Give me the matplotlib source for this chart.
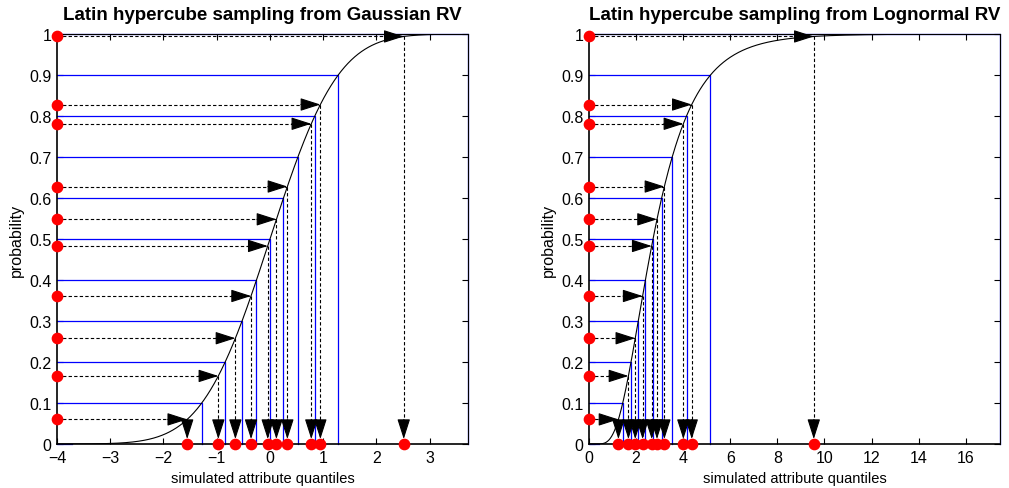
import numpy as np
import matplotlib
matplotlib.use("Agg")
import matplotlib.pyplot as plt
from statistics import NormalDist

plt.rcParams['font.family'] = ['Liberation Sans', 'DejaVu Sans']

# sampled probabilities, one per stratum
u_samples = [0.060, 0.166, 0.258, 0.361, 0.483, 0.548, 0.628, 0.781, 0.828, 0.994]
# stratum edges (0 and 1 clipped to keep quantiles finite)
p_edges = [0.0001, 0.1, 0.2, 0.3, 0.4, 0.5, 0.6, 0.7, 0.8, 0.9, 0.9999]
y_ticks = [0, 0.1, 0.2, 0.3, 0.4, 0.5, 0.6, 0.7, 0.8, 0.9, 1]
y_ticklabels = ['0', '0.1', '0.2', '0.3', '0.4', '0.5', '0.6', '0.7', '0.8', '0.9', '1']

gauss = NormalDist(0, 1)
mu_ln, sigma_ln = 1.0, 0.5


def gauss_cdf(x):
    return np.array([gauss.cdf(v) for v in x])


def gauss_inv(p):
    return np.array([gauss.inv_cdf(v) for v in p])


def logn_cdf(x):
    return np.array([gauss.cdf((np.log(v) - mu_ln) / sigma_ln) if v > 0 else 0.0 for v in x])


def logn_inv(p):
    return np.exp(mu_ln + sigma_ln * gauss_inv(p))


panels = [
    dict(title='Latin hypercube sampling from Gaussian RV', cdf=gauss_cdf, inv=gauss_inv,
         xmin=-4, xticks=[-4, -3, -2, -1, 0, 1, 2, 3],
         xticklabels=['\u22124', '\u22123', '\u22122', '\u22121', '0', '1', '2', '3']),
    dict(title='Latin hypercube sampling from Lognormal RV', cdf=logn_cdf, inv=logn_inv,
         xmin=0, xticks=[0, 2, 4, 6, 8, 10, 12, 14, 16],
         xticklabels=['0', '2', '4', '6', '8', '10', '12', '14', '16']),
]

W, H = 1009, 489
fig = plt.figure(figsize=(W / 100, H / 100), dpi=100)
lefts = [57, 589]

head = dict(arrowstyle='-|>,head_length=1.25,head_width=0.4', color='k', lw=0.8,
            shrinkA=0, shrinkB=0, mutation_scale=10)

for left, pn in zip(lefts, panels):
    ax = fig.add_axes([left / W, 44 / H, 411 / W, 410 / H])
    edges = pn['inv'](p_edges)
    xmax = edges[-1]
    xmin = pn['xmin']

    # CDF curve
    xs = np.linspace(xmin, xmax, 600)
    ax.plot(xs, pn['cdf'](xs), color='k', lw=0.8, zorder=3)

    # strata boundaries
    p_draw = [0] + p_edges[1:-1] + [1]
    for p, q in zip(p_draw, edges):
        ax.plot([xmin, q, q], [p, p, 0], color='#0000ff', lw=0.9, zorder=2, clip_on=False)

    # samples: horizontal arrow to the curve, then down to the axis
    xq = pn['inv'](u_samples)
    for u, q in zip(u_samples, xq):
        ax.plot([xmin, q], [u, u], color='k', lw=0.8, ls=(0, (3, 2)), zorder=4)
        ax.plot([q, q], [u, 0.02], color='k', lw=0.8, ls=(0, (3, 2)), zorder=4)
        ax.annotate('', xy=(q, u), xytext=(-14, 0), textcoords='offset points',
                    arrowprops=head, zorder=5)
        ax.annotate('', xy=(q, 0.012), xytext=(0, 14), textcoords='offset points',
                    arrowprops=head, zorder=5)
    ax.plot([xmin] * len(u_samples), u_samples, 'o', color='#ff0000', ms=7.4,
            mec='#ff0000', clip_on=False, zorder=6)
    ax.plot(xq, [0] * len(xq), 'o', color='#ff0000', ms=7.4,
            mec='#ff0000', clip_on=False, zorder=6)

    ax.set_xlim(xmin, xmax)
    ax.set_ylim(0, 1)
    ax.set_xticks(pn['xticks'])
    ax.set_xticklabels(pn['xticklabels'])
    ax.set_yticks(y_ticks)
    ax.set_yticklabels(y_ticklabels)
    ax.tick_params(direction='in', top=True, right=True, length=4, width=0.8,
                   labelsize=11.5, pad=4)
    for s in ['left', 'bottom']:
        ax.spines[s].set_linewidth(1.2)
    for s in ['top', 'right']:
        ax.spines[s].set_linewidth(0.8)
    ax.set_xlabel('simulated attribute quantiles', fontsize=10.5, labelpad=5)
    ax.set_ylabel('probability', fontsize=11.5, labelpad=4)
    ax.set_title(pn['title'], fontsize=13.5, fontweight='bold', pad=11)

fig.savefig('out.png', dpi=100)
